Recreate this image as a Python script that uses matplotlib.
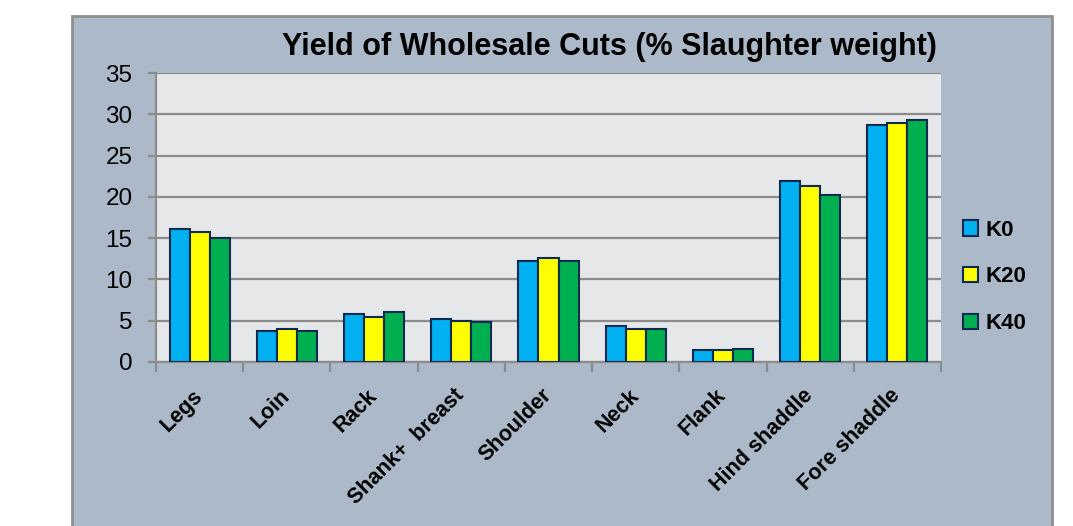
import numpy as np
import matplotlib
matplotlib.use("Agg")
import matplotlib.pyplot as plt
from matplotlib.patches import Rectangle

# wholesale cut yields, % of slaughter weight
cuts = ["Legs", "Loin", "Rack", "Shank+  breast", "Shoulder", "Neck", "Flank",
        "Hind shaddle", "Fore shaddle"]
k0 = [16.1, 3.7, 5.8, 5.2, 12.25, 4.3, 1.5, 21.95, 28.75]
k20 = [15.8, 3.95, 5.5, 4.95, 12.65, 3.95, 1.45, 21.3, 29.0]
k40 = [15.0, 3.8, 6.0, 4.8, 12.2, 4.05, 1.6, 20.2, 29.35]
groups = ["K0", "K20", "K40"]
colors = ["#00b0f0", "#ffff00", "#00b050"]

plt.rcParams["font.family"] = ["Liberation Sans", "DejaVu Sans"]

fig = plt.figure(figsize=(10.73, 5.26), dpi=100)
fig.patch.set_facecolor("white")

# chart area panel behind everything
panel = Rectangle((72 / 1073, -0.02), (1052 - 72) / 1073, 1 - 16 / 526 + 0.02,
                  transform=fig.transFigure, facecolor="#abb9c9",
                  edgecolor="#8f8f8f", linewidth=2, zorder=-10)
fig.patches.append(panel)

ax = fig.add_axes([156 / 1073, 1 - 362 / 526, (941 - 156) / 1073, (362 - 73) / 526])
ax.set_facecolor("#e6e7e9")

x = np.arange(len(cuts))
w = 0.23
for i, (vals, c) in enumerate(zip([k0, k20, k40], colors)):
    ax.bar(x + (i - 1) * w, vals, width=w, color=c, edgecolor="#0f2a4f",
           linewidth=1.5, zorder=3, label=groups[i])

ax.set_xlim(-0.5, len(cuts) - 0.5)
ax.set_ylim(0, 35)
ax.set_yticks(range(0, 36, 5))
ax.yaxis.grid(True, color="#8c8c8c", linewidth=1.6, zorder=1)
ax.set_axisbelow(True)

for s in ["top", "right"]:
    ax.spines[s].set_visible(False)
for s in ["left", "bottom"]:
    ax.spines[s].set_color("#8c8c8c")
    ax.spines[s].set_linewidth(1.6)

# category boundary ticks on x, labels at category centres
ax.set_xticks(np.arange(-0.5, len(cuts), 1.0))
ax.set_xticklabels([])
ax.set_xticks(x, minor=True)
ax.set_xticklabels(cuts, minor=True, rotation=45, ha="right", va="center",
                   rotation_mode="anchor", fontsize=15.5, fontweight="bold")
ax.tick_params(axis="x", which="minor", length=0, pad=22)
ax.tick_params(axis="x", which="major", length=7, width=1.6, color="#8c8c8c")
ax.tick_params(axis="y", length=6, width=1.6, color="#8c8c8c", labelsize=17.5, pad=11)

fig.text(0.568, 1 - 47 / 526, "Yield of Wholesale Cuts (% Slaughter weight)",
         ha="center", va="center", fontsize=22, fontweight="bold")

ax.legend(loc="center left", bbox_to_anchor=(963 / 1073, 1 - 277 / 526),
          bbox_transform=fig.transFigure, frameon=False,
          prop={"size": 16, "weight": "bold"}, handlelength=0.68,
          handleheight=0.68, handletextpad=0.35, labelspacing=1.16,
          borderpad=0, borderaxespad=0)

fig.savefig("out.png", dpi=100, facecolor="white")
